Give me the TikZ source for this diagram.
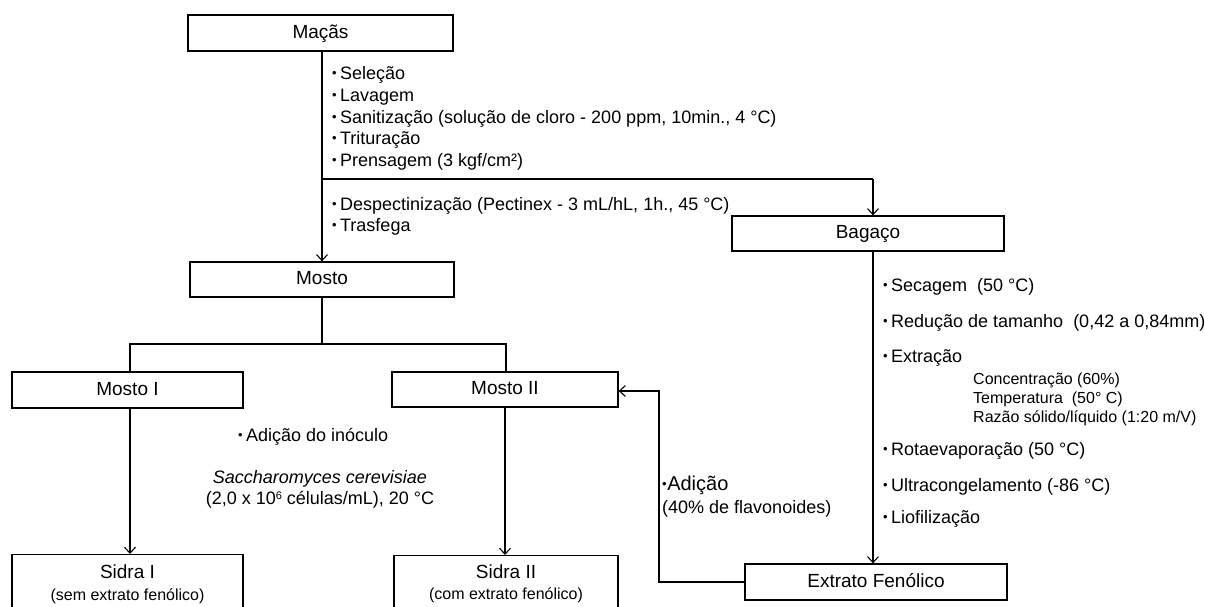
\documentclass[tikz,border=0pt]{standalone}
\usepackage{fontspec}
\setmainfont{Liberation Sans}
\usetikzlibrary{arrows.meta}
\newcommand{\bl}{\raisebox{1.2pt}{\fontsize{13}{13}\selectfont\textbullet}\hspace{3.4pt}}
\begin{document}
\begin{tikzpicture}[x=1pt,y=-1pt,
  box/.style={draw,line width=1.3pt,inner sep=0pt,text height=13.6pt,text depth=3.6pt,font=\fontsize{19}{22}\selectfont},
  frame/.style={draw,line width=1.3pt,inner sep=0pt},
  txt/.style={anchor=base west,inner sep=0pt,font=\fontsize{18}{21}\selectfont},
  ctxt/.style={anchor=base,inner sep=0pt,font=\fontsize{18}{21}\selectfont},
  sub/.style={anchor=base west,inner sep=0pt,font=\fontsize{16}{19}\selectfont},
  csub/.style={anchor=base,inner sep=0pt,font=\fontsize{16}{19}\selectfont},
  big/.style={anchor=base,inner sep=0pt,font=\fontsize{19}{22}\selectfont},
  ln/.style={line width=1.1pt},
  arr/.style={line width=1.1pt,-{Straight Barb[length=6pt,width=11pt,line width=1.1pt]}}]
\useasboundingbox (0,0) rectangle (1205,606);
\clip (0,0) rectangle (1205,606);

% boxes
\node[box,minimum width=265pt,minimum height=36pt] (macas) at (320.5,33) {Maçãs};
\node[box,minimum width=264pt,minimum height=35pt] (mosto) at (322,279.5) {Mosto};
\node[box,minimum width=272pt,minimum height=35pt] (bagaco) at (868,233.5) {Bagaço};
\node[box,minimum width=231pt,minimum height=36pt] (moI) at (127.5,390) {Mosto I};
\node[box,minimum width=226pt,minimum height=35pt] (moII) at (505,389.5) {Mosto II};
\node[box,minimum width=262pt,minimum height=36pt] (extrato) at (876,582) {Extrato Fenólico};
\node[frame,minimum width=231pt,minimum height=70pt,anchor=north] (sidraI) at (127.5,554) {};
\node[frame,minimum width=224pt,minimum height=70pt,anchor=north] (sidraII) at (506,555) {};
\node[big] (sIa) at (127.5,578) {Sidra I};
\node[csub] (sIb) at (127.5,600) {(sem extrato fenólico)};
\node[big] (sIIa) at (506,578) {Sidra II};
\node[csub] (sIIb) at (506,599) {(com extrato fenólico)};

% connectors
\coordinate (j1) at (322,179);
\coordinate (j2) at (873,179);
\draw[arr] (macas.south -| mosto.north) -- (mosto.north);
\draw[ln] (j1) -- (j2);
\draw[arr] (j2) -- (j2 |- bagaco.north);
\draw[arr] (bagaco.south -| j2) -- (j2 |- extrato.north);
\coordinate (j3) at (322,344);
\coordinate (j4) at (130,344);
\coordinate (j5) at (506,344);
\draw[ln] (mosto.south) -- (j3);
\draw[ln] (j4 |- moI.north) -- (j4) -- (j5) -- (j5 |- moII.north);
\draw[arr] (moI.south -| j4) -- (j4 |- sidraI.north);
\draw[arr] (moII.south) -- (moII.south |- sidraII.north);
\coordinate (j7) at (659,391);
\draw[arr] (extrato.west) -| (j7) -- (moII.east |- j7);

% top list
\node[txt] (a1) at (332,79) {\bl Seleção};
\node[txt] (a2) at (332,101) {\bl Lavagem};
\node[txt] (a3) at (332,123) {\bl Sanitização (solução de cloro - 200 ppm, 10min., 4 °C)};
\node[txt] (a4) at (332,144) {\bl Trituração};
\node[txt] (a5) at (332,166) {\bl Prensagem (3 kgf/cm²)};
\node[txt] (a6) at (332,210) {\bl Despectinização (Pectinex - 3 mL/hL, 1h., 45 °C)};
\node[txt] (a7) at (332,231) {\bl Trasfega};

% middle
\node[txt] (m1) at (238,441) {\bl Adição do inóculo};
\node[ctxt] (m2) at (320,483) {\itshape Saccharomyces cerevisiae};
\node[ctxt] (m3) at (320,504) {(2,0 x 10\raisebox{4.5pt}{\fontsize{11}{11}\selectfont 6} células/mL), 20 °C};

% adição
\node[anchor=base west,inner sep=0pt,font=\fontsize{20}{23}\selectfont] (ad1) at (662,490) {\raisebox{1.5pt}{\fontsize{13}{13}\selectfont\textbullet}\hspace{0.5pt}Adição};
\node[txt] (ad2) at (662,513) {(40\% de flavonoides)};

% bagaço list
\node[txt] (b1) at (883,291) {\bl Secagem\ \ (50 °C)};
\node[txt] (b2) at (883,327) {\bl Redução de tamanho\ \ (0,42 a 0,84mm)};
\node[txt] (b3) at (883,362) {\bl Extração};
\node[sub] (b4) at (973,384) {Concentração (60\%)};
\node[sub] (b5) at (973,403) {Temperatura\ \ (50° C)};
\node[sub] (b6) at (973,422) {Razão sólido/líquido (1:20 m/V)};
\node[txt] (b7) at (883,455) {\bl Rotaevaporação (50 °C)};
\node[txt] (b8) at (883,491) {\bl Ultracongelamento (-86 °C)};
\node[txt] (b9) at (883,523) {\bl Liofilização};
\end{tikzpicture}
\end{document}
